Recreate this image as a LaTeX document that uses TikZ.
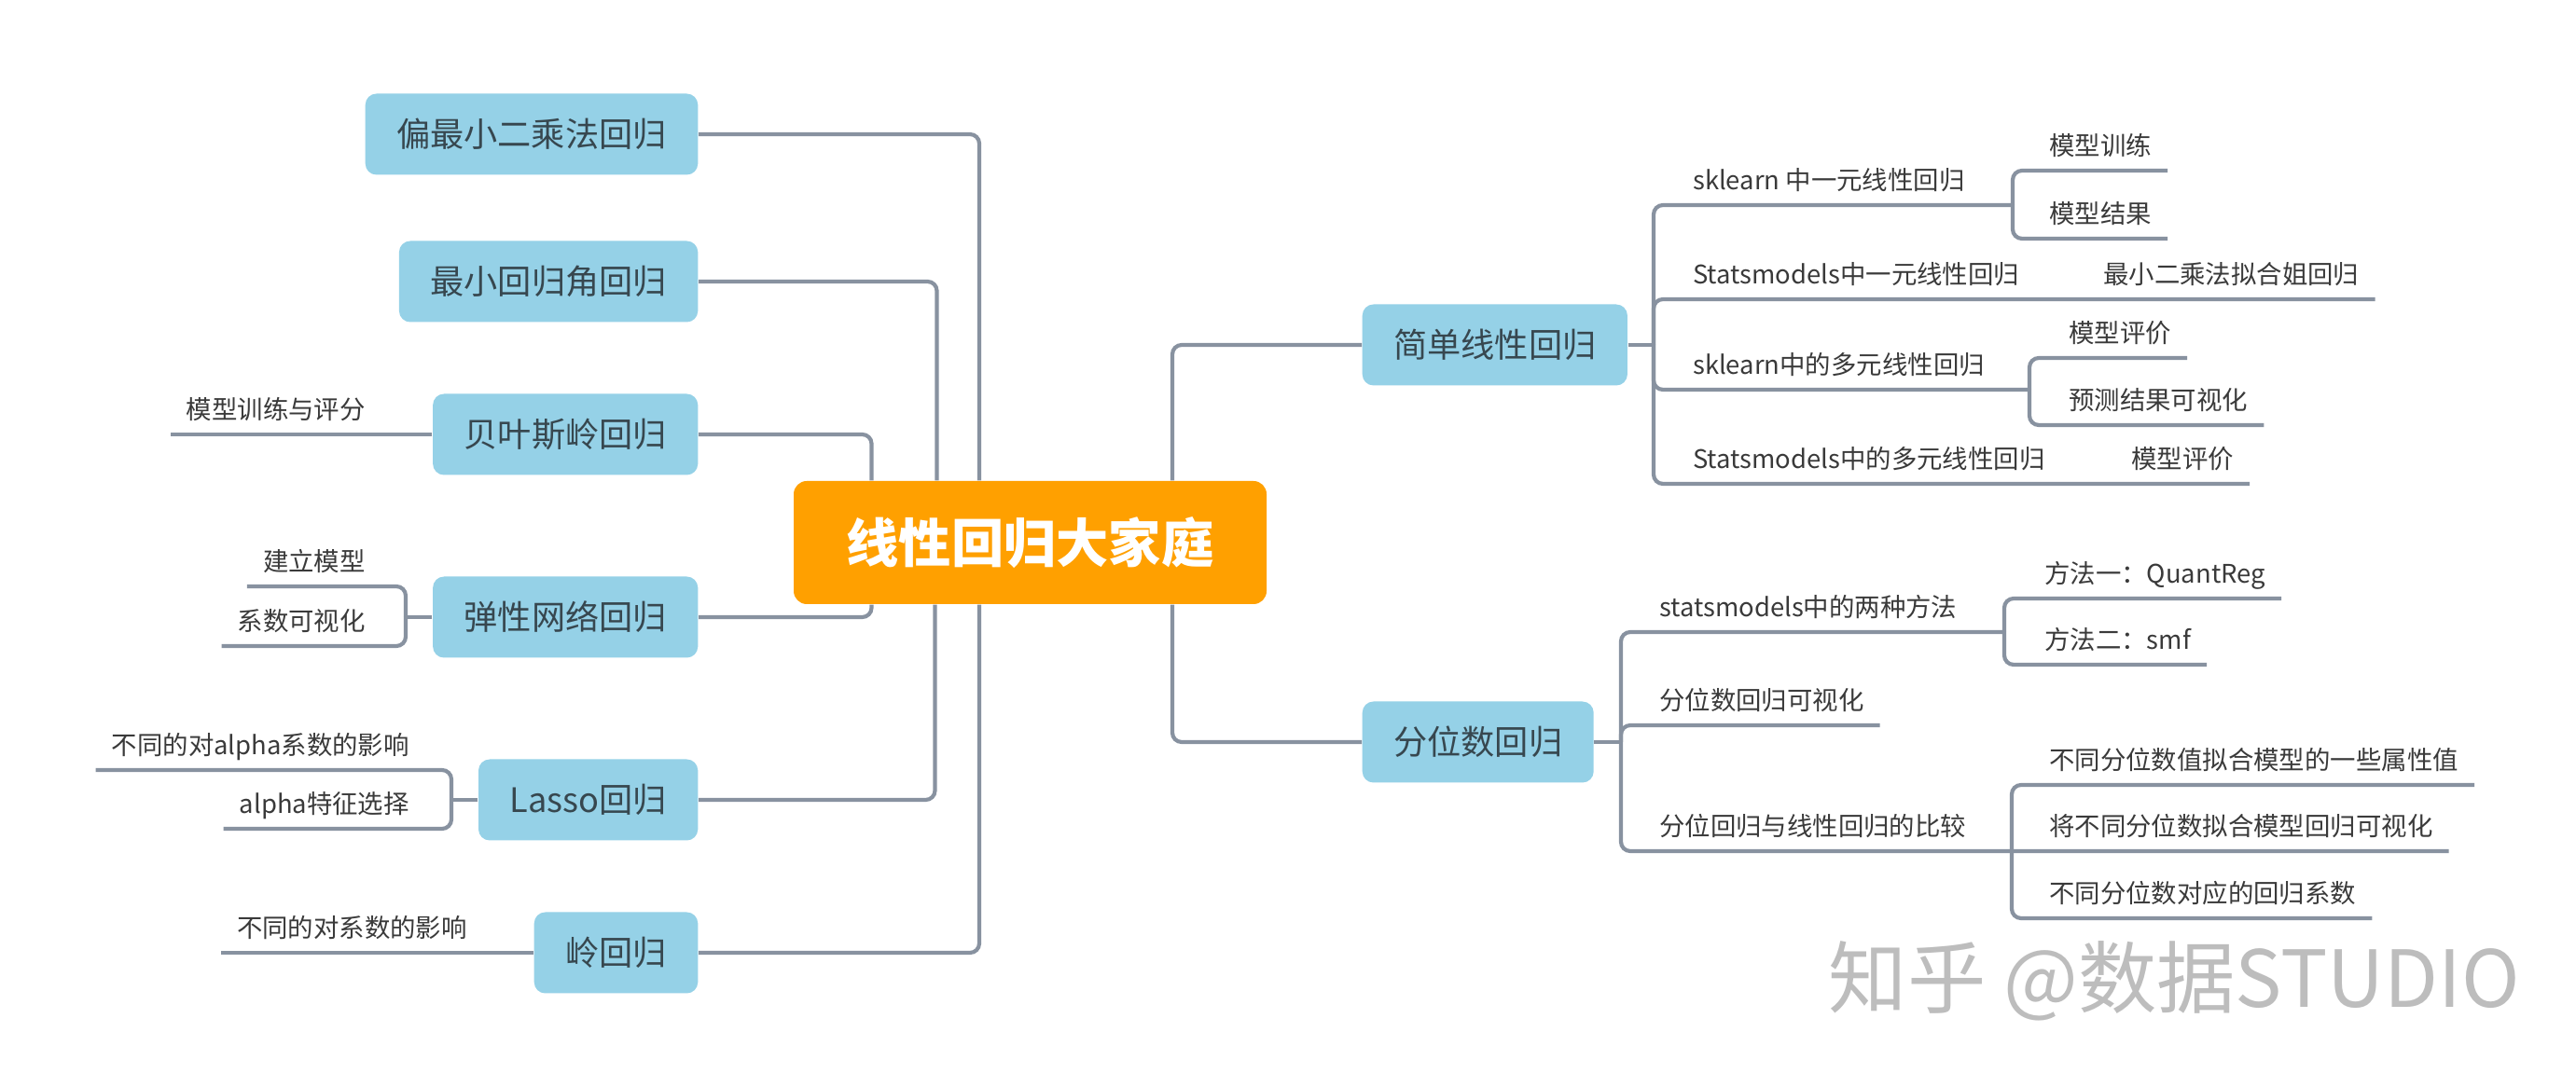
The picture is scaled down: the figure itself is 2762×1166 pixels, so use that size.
\documentclass[tikz,border=0pt]{standalone}
\usepackage{fontspec}
\setmainfont{Noto Sans CJK SC}
\usepackage{tikz}
\usetikzlibrary{calc}
\definecolor{hub}{HTML}{FFA000}
\definecolor{sky}{HTML}{95D1E7}
\definecolor{slate}{HTML}{37474F}
\definecolor{ink}{HTML}{3A3A3A}
\definecolor{wire}{HTML}{8892A0}
\definecolor{shade}{HTML}{BDBDBD}

\begin{document}
\begin{tikzpicture}[
  x=0.1mm,y=-0.1mm,
  main/.style={fill=hub,rounded corners=1.4mm,minimum width=50.7mm,minimum height=13.2mm,font=\fontsize{16}{18}\selectfont\bfseries,text=white},
  topic/.style={fill=sky,rounded corners=1.2mm,minimum height=8.7mm,inner xsep=3.35mm,font=\fontsize{10.3}{12}\selectfont,text=slate},
  sub/.style={inner xsep=1.65mm,inner ysep=1.2mm,text height=2.45mm,text depth=0.35mm,font=\fontsize{7.8}{9}\selectfont,text=ink},
  stamp/.style={font=\fontsize{24}{26}\selectfont,inner sep=0pt,text=shade},
  link/.style={draw=wire,line width=0.42mm,rounded corners=1mm}]
  \fill[white] (0,0) rectangle (2762,1166);
  \useasboundingbox (0,0) rectangle (2762,1166);

  \node[main] (root) at (1104.5,582) {线性回归大家庭};

  \node[topic,anchor=east] (pls) at (749,144) {偏最小二乘法回归};
  \node[topic,anchor=east] (lars) at (749,302) {最小回归角回归};
  \node[topic,anchor=east] (bayes) at (749,466) {贝叶斯岭回归};
  \node[topic,anchor=east] (enet) at (749,662) {弹性网络回归};
  \node[topic,anchor=east] (lasso) at (749,858) {Lasso回归};
  \node[topic,anchor=east] (ridge) at (749,1022) {岭回归};
  \node[topic,anchor=west] (simple) at (1460,370) {简单线性回归};
  \node[topic,anchor=west] (quant) at (1460,796) {分位数回归};

  \node[sub,anchor=south east] (bayes1) at (409,466) {模型训练与评分};
  \node[sub,anchor=south east] (enet1) at (409,629) {建立模型};
  \node[sub,anchor=south east] (enet2) at (409,693) {系数可视化};
  \node[sub,anchor=south east] (lasso1) at (456,826) {不同的对alpha系数的影响};
  \node[sub,anchor=south east] (lasso2) at (456,889) {alpha特征选择};
  \node[sub,anchor=south east] (ridge1) at (518,1022) {不同的对系数的影响};

  \node[sub,anchor=south west] (sk1) at (1798,220) {sklearn 中一元线性回归};
  \node[sub,anchor=south west] (sm1) at (1798,321) {Statsmodels中一元线性回归};
  \node[sub,anchor=south west] (sk2) at (1798,418) {sklearn中的多元线性回归};
  \node[sub,anchor=south west] (sm2) at (1798,519) {Statsmodels中的多元线性回归};
  \node[sub,anchor=south west] (sk1a) at (2180,183) {模型训练};
  \node[sub,anchor=south west] (sk1b) at (2180,256) {模型结果};
  \node[sub,anchor=south west] (sm1a) at (2238,321) {最小二乘法拟合姐回归};
  \node[sub,anchor=south west] (sk2a) at (2201,384) {模型评价};
  \node[sub,anchor=south west] (sk2b) at (2201,456) {预测结果可视化};
  \node[sub,anchor=south west] (sm2a) at (2268,519) {模型评价};

  \node[sub,anchor=south west] (qr1) at (1762,678) {statsmodels中的两种方法};
  \node[sub,anchor=south west] (qr2) at (1762,778) {分位数回归可视化};
  \node[sub,anchor=south west] (qr3) at (1762,913) {分位回归与线性回归的比较};
  \node[sub,anchor=south west] (qr1a) at (2175,642) {方法一：QuantReg};
  \node[sub,anchor=south west] (qr1b) at (2175,713) {方法二：smf};
  \node[sub,anchor=south west] (qr3a) at (2180,842) {不同分位数值拟合模型的一些属性值};
  \node[sub,anchor=south west] (qr3b) at (2180,913) {将不同分位数拟合模型回归可视化};
  \node[sub,anchor=south west] (qr3c) at (2180,985) {不同分位数对应的回归系数};

  \coordinate (enetfork) at (435,662);
  \coordinate (lassofork) at (484,858);
  \coordinate (simplefork) at (1773,370);
  \coordinate (sk1fork) at (2158,220);
  \coordinate (sk2fork) at (2176,418);
  \coordinate (quantfork) at (1738,796);
  \coordinate (qr1fork) at (2149,678);
  \coordinate (qr3fork) at (2157,913);

  \draw[link] (pls.east) -| ($(root.north)+(-54.5,0)$);
  \draw[link] (lars.east) -| ($(root.north)+(-100,0)$);
  \draw[link] (bayes.east) -| ($(root.north)+(-170,0)$);
  \draw[link] (enet.east) -| ($(root.south)+(-170,0)$);
  \draw[link] (lasso.east) -| ($(root.south)+(-102,0)$);
  \draw[link] (ridge.east) -| ($(root.south)+(-54.5,0)$);
  \draw[link] ($(root.north)+(152.5,0)$) |- (simple.west);
  \draw[link] ($(root.south)+(152.5,0)$) |- (quant.west);

  \draw[link] (bayes.west) -- (bayes1.south west);
  \draw[link] (enet.west) -- (enetfork);
  \draw[link] (enetfork) |- (enet1.south west);
  \draw[link] (enetfork) |- (enet2.south west);
  \draw[link] (lasso.west) -- (lassofork);
  \draw[link] (lassofork) |- (lasso1.south west);
  \draw[link] (lassofork) |- (lasso2.south west);
  \draw[link] (ridge.west) -- (ridge1.south west);

  \draw[link] (simple.east) -- (simplefork);
  \draw[link] (simplefork) |- (sk1fork);
  \draw[link] (simplefork) |- (sm1a.south east);
  \draw[link] (simplefork) |- (sk2fork);
  \draw[link] (simplefork) |- (sm2a.south east);
  \draw[link] (sk1fork) |- (sk1a.south east);
  \draw[link] (sk1fork) |- (sk1b.south east);
  \draw[link] (sk2fork) |- (sk2a.south east);
  \draw[link] (sk2fork) |- (sk2b.south east);

  \draw[link] (quant.east) -- (quantfork);
  \draw[link] (quantfork) |- (qr1fork);
  \draw[link] (quantfork) |- (qr2.south east);
  \draw[link] (quantfork) |- (qr3b.south east);
  \draw[link] (qr1fork) |- (qr1a.south east);
  \draw[link] (qr1fork) |- (qr1b.south east);
  \draw[link] (qr3fork) |- (qr3a.south east);
  \draw[link] (qr3fork) |- (qr3c.south east);

  \node[stamp,anchor=west] (stamp) at (1960,1052) {知乎 @数据STUDIO};
\end{tikzpicture}
\end{document}
